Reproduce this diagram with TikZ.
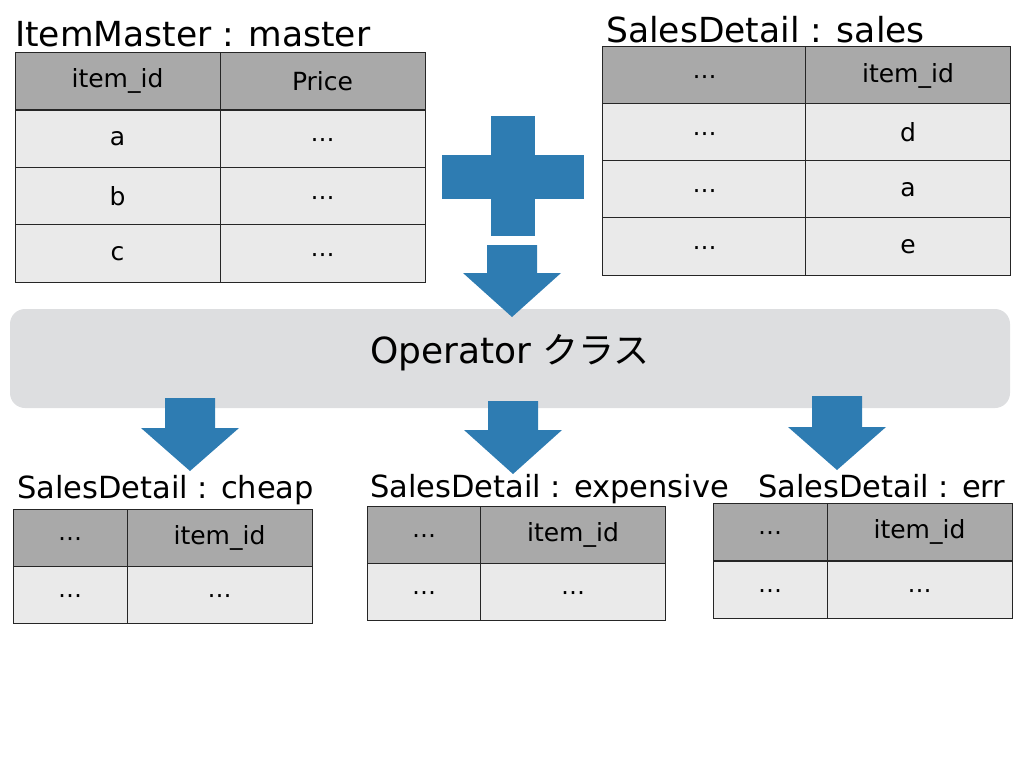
\documentclass[tikz,border=0pt]{standalone}
\usepackage{fontspec}
\setmainfont{DejaVu Sans}
\newfontfamily\jpfont{Noto Sans CJK JP}

\definecolor{arrowblue}{HTML}{2E7CB2}
\definecolor{headgray}{HTML}{A9A9A9}
\definecolor{bodygray}{HTML}{EAEAEA}
\definecolor{boxgray}{HTML}{DDDEE0}

\tikzset{
  cell/.style={draw=black!85, line width=0.8pt, inner sep=0pt, font=\fontsize{25}{30}\selectfont},
  headcell/.style={cell, fill=headgray},
  bodycell/.style={cell, fill=bodygray},
  tabtitle/.style={anchor=base west, inner sep=0pt, font=\fontsize{34.5}{40}\selectfont},
  subtitle/.style={anchor=base west, inner sep=0pt, font=\fontsize{30.5}{36}\selectfont},
  wide/.style={minimum width=205pt, minimum height=57.5pt},
  narrow/.style={minimum width=114pt, minimum height=57pt},
  half/.style={minimum width=185pt, minimum height=57pt},
}

% block arrow pointing down: centre x, shaft top, head top, tip
\newcommand{\blockdown}[4]{%
  \fill[arrowblue] ({#1-25},#2) -- ({#1+25},#2) -- ({#1+25},#3) -- ({#1+49},#3)
    -- (#1,#4) -- ({#1-49},#3) -- ({#1-25},#3) -- cycle;}

\newcommand{\celldots}{{\fontsize{24}{28}\selectfont\vphantom{x}\smash{\raisebox{-2pt}{⋯}}}}

\begin{document}
\begin{tikzpicture}[x=1pt, y=-1pt, line join=miter]

  \useasboundingbox (0,0) rectangle (1024,768);

  % master table
  \node[tabtitle] (mtitle) at (15,46) {ItemMaster : master};
  \node[headcell, wide] (m11) at (117.5,81) {item\_id};
  \node[headcell, wide] (m12) at (322.5,81) {Price};
  \node[bodycell, wide] (m21) at (117.5,139) {a};
  \node[bodycell, wide] (m22) at (322.5,139) {\celldots};
  \node[bodycell, wide] (m31) at (117.5,196.5) {b};
  \node[bodycell, wide] (m32) at (322.5,196.5) {\celldots};
  \node[bodycell, wide] (m41) at (117.5,253.5) {c};
  \node[bodycell, wide] (m42) at (322.5,253.5) {\celldots};

  % sales table
  \node[tabtitle] (stitle) at (606,42) {SalesDetail : sales};
  \node[headcell, wide] (s11) at (704.5,75.5) {\celldots};
  \node[headcell, wide] (s12) at (908,75.5) {item\_id};
  \node[bodycell, wide] (s21) at (704.5,132.5) {\celldots};
  \node[bodycell, wide] (s22) at (908,132.5) {d};
  \node[bodycell, wide] (s31) at (704.5,189.5) {\celldots};
  \node[bodycell, wide] (s32) at (908,189.5) {a};
  \node[bodycell, wide] (s41) at (704.5,246.5) {\celldots};
  \node[bodycell, wide] (s42) at (908,246.5) {e};

  % plus sign
  \fill[arrowblue] (442,155) rectangle (584,199);
  \fill[arrowblue] (491,116) rectangle (535,236);

  % operator box
  \node[fill=boxgray, rounded corners=15pt, minimum width=1000pt, minimum height=99pt] (op) at (510,358.5) {};
  \node[anchor=base, inner sep=0pt, font=\fontsize{36}{42}\selectfont] (optext) at (510,363) {Operator {\jpfont クラス}};

  \blockdown{512}{245}{273}{317}
  \blockdown{190}{398}{428}{471}
  \blockdown{513}{401}{430}{474}
  \blockdown{837}{396}{427}{470}

  % cheap
  \node[subtitle] (ctitle) at (17,498) {SalesDetail : cheap};
  \node[headcell, narrow] (c11) at (70,537.5) {\celldots};
  \node[headcell, half] (c12) at (219.5,537.5) {item\_id};
  \node[bodycell, narrow] (c21) at (70,594.5) {\celldots};
  \node[bodycell, half] (c22) at (219.5,594.5) {\celldots};

  % expensive
  \node[subtitle] (etitle) at (370,497) {SalesDetail : expensive};
  \node[headcell, narrow] (e11) at (424,534.5) {\celldots};
  \node[headcell, half] (e12) at (573,534.5) {item\_id};
  \node[bodycell, narrow] (e21) at (424,591.5) {\celldots};
  \node[bodycell, half] (e22) at (573,591.5) {\celldots};

  % err
  \node[subtitle] (rtitle) at (758,497) {SalesDetail : err};
  \node[headcell, narrow] (r11) at (770,531.5) {\celldots};
  \node[headcell, half] (r12) at (919.5,531.5) {item\_id};
  \node[bodycell, narrow] (r21) at (770,589.5) {\celldots};
  \node[bodycell, half] (r22) at (919.5,589.5) {\celldots};

\end{tikzpicture}
\end{document}
